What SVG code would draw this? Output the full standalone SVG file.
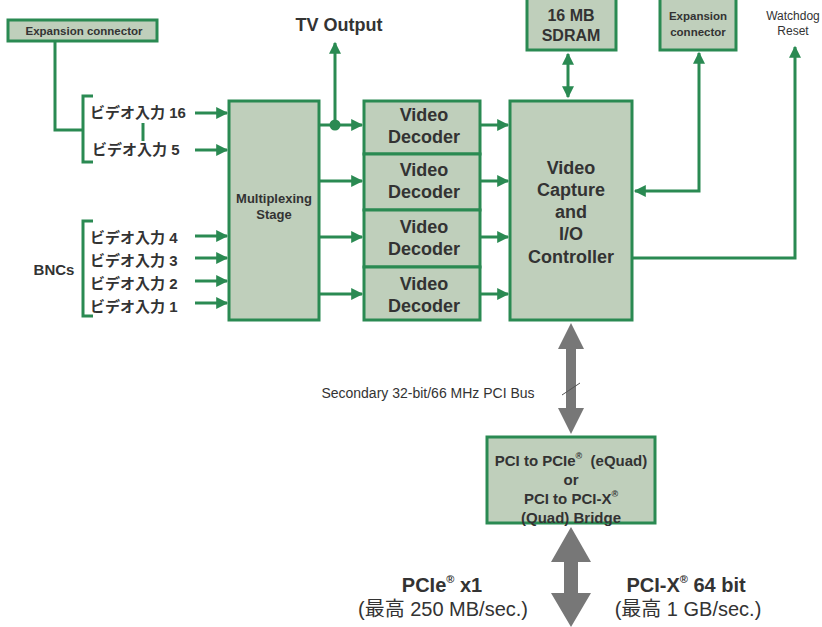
<svg xmlns="http://www.w3.org/2000/svg" width="822" height="627" viewBox="0 0 822 627">
<style>
.box{fill:#bfcfbb;stroke:#2a8a52;stroke-width:3}
.ln{fill:none;stroke:#2a8a52;stroke-width:3}
.t{font-family:"Liberation Sans","Noto Sans CJK JP",sans-serif;fill:#333;font-weight:bold;text-anchor:middle}
.j{font-family:"Liberation Sans","Noto Sans CJK JP",sans-serif;fill:#333;font-weight:bold;font-size:15px}
.n{font-family:"Liberation Sans","Noto Sans CJK JP",sans-serif;fill:#333;text-anchor:middle}
.g{fill:#777}
</style>
<defs>
<marker id="ah" viewBox="0 0 10 10" refX="9" refY="5" markerWidth="4.5" markerHeight="4" orient="auto-start-reverse" markerUnits="strokeWidth">
<path d="M0,0 L10,5 L0,10 z" fill="#2a8a52"/>
</marker>
</defs>
<g id="connectors">
<path class="ln" d="M55,41 V130 H82"/>
<path class="ln" d="M93,96 H83 V162 H93"/>
<path class="ln" d="M93,221 H83 V316 H93"/>
<path class="ln" d="M143,123 V141" stroke-width="2"/>
<path class="ln" d="M195,113 H227" marker-end="url(#ah)"/>
<path class="ln" d="M195,150 H227" marker-end="url(#ah)"/>
<path class="ln" d="M195,236 H227" marker-end="url(#ah)"/>
<path class="ln" d="M195,258 H227" marker-end="url(#ah)"/>
<path class="ln" d="M195,281 H227" marker-end="url(#ah)"/>
<path class="ln" d="M195,303 H227" marker-end="url(#ah)"/>
<path class="ln" d="M320,125 H362" marker-end="url(#ah)"/>
<path class="ln" d="M335,125 V43" marker-end="url(#ah)"/>
<circle cx="335" cy="125" r="5.5" fill="#2a8a52"/>
<path class="ln" d="M320,181 H362" marker-end="url(#ah)"/>
<path class="ln" d="M320,237 H362" marker-end="url(#ah)"/>
<path class="ln" d="M320,294 H362" marker-end="url(#ah)"/>
<path class="ln" d="M481,125 H508" marker-end="url(#ah)"/>
<path class="ln" d="M481,181 H508" marker-end="url(#ah)"/>
<path class="ln" d="M481,237 H508" marker-end="url(#ah)"/>
<path class="ln" d="M481,294 H508" marker-end="url(#ah)"/>
<path class="ln" d="M568,54 V97" marker-start="url(#ah)" marker-end="url(#ah)"/>
<path class="ln" d="M699,53 V191 H635" marker-start="url(#ah)" marker-end="url(#ah)"/>
<path class="ln" d="M633,258 H795 V47" marker-end="url(#ah)"/>
<path class="g" d="M571,323 L584,349 L576,349 L576,408 L584,408 L571,434 L558,408 L566,408 L566,349 L558,349 z"/>
<path d="M562,395 L580,383" stroke="#555" stroke-width="1"/>
<path class="g" d="M571,527 L591,562 L578,562 L578,593 L591,593 L571,627 L551,593 L564,593 L564,562 L551,562 z"/>
</g>
<g id="exp-left">
<rect class="box" x="8" y="20" width="149" height="21"/>
<text class="t" x="84" y="35" font-size="11.5">Expansion connector</text>
</g>
<g id="inputs">
<text class="j" x="90" y="118">ビデオ入力 16</text>
<text class="j" x="92" y="155">ビデオ入力 5</text>
<text class="j" x="90" y="243">ビデオ入力 4</text>
<text class="j" x="90" y="266">ビデオ入力 3</text>
<text class="j" x="90" y="289">ビデオ入力 2</text>
<text class="j" x="90" y="312">ビデオ入力 1</text>
<text class="t" x="54" y="275" font-size="15">BNCs</text>
</g>
<g id="tv-output">
<text class="t" x="339" y="31" font-size="18">TV Output</text>
</g>
<g id="mux">
<rect class="box" x="229" y="101" width="90" height="219"/>
<text class="t" x="274" y="203" font-size="13">Multiplexing</text>
<text class="t" x="274" y="219" font-size="13">Stage</text>
</g>
<g id="dec1">
<rect class="box" x="364" y="101" width="116" height="53"/>
<text class="t" x="424" y="121" font-size="18">Video</text>
<text class="t" x="424" y="143" font-size="18">Decoder</text>
</g>
<g id="dec2">
<rect class="box" x="364" y="154" width="116" height="56"/>
<text class="t" x="424" y="176" font-size="18">Video</text>
<text class="t" x="424" y="198" font-size="18">Decoder</text>
</g>
<g id="dec3">
<rect class="box" x="364" y="210" width="116" height="57"/>
<text class="t" x="424" y="233" font-size="18">Video</text>
<text class="t" x="424" y="255" font-size="18">Decoder</text>
</g>
<g id="dec4">
<rect class="box" x="364" y="267" width="116" height="53"/>
<text class="t" x="424" y="290" font-size="18">Video</text>
<text class="t" x="424" y="312" font-size="18">Decoder</text>
</g>
<g id="controller">
<rect class="box" x="510" y="101" width="122" height="219"/>
<text class="t" x="571" y="174" font-size="18">Video</text>
<text class="t" x="571" y="196" font-size="18">Capture</text>
<text class="t" x="571" y="218" font-size="18">and</text>
<text class="t" x="571" y="240" font-size="18">I/O</text>
<text class="t" x="571" y="263" font-size="18">Controller</text>
</g>
<g id="sdram">
<rect class="box" x="527" y="-2" width="89" height="52"/>
<text class="t" x="571" y="21" font-size="16">16 MB</text>
<text class="t" x="571" y="41" font-size="16">SDRAM</text>
</g>
<g id="exp-right">
<rect class="box" x="660" y="-2" width="76" height="52"/>
<text class="t" x="698" y="20" font-size="11.5">Expansion</text>
<text class="t" x="698" y="36" font-size="11.5">connector</text>
</g>
<g id="watchdog">
<text class="n" x="793" y="20" font-size="12">Watchdog</text>
<text class="n" x="793" y="35" font-size="12">Reset</text>
</g>
<g id="bus-label">
<text class="n" x="428" y="398" font-size="14">Secondary 32-bit/66 MHz PCI Bus</text>
</g>
<g id="bridge">
<rect class="box" x="487" y="437" width="168" height="86"/>
<text class="t" x="571" y="466" font-size="15">PCI to PCIe<tspan font-size="9" dy="-7">®</tspan><tspan dy="7">&#160; (eQuad)</tspan></text>
<text class="t" x="571" y="485" font-size="15">or</text>
<text class="t" x="571" y="504" font-size="15">PCI to PCI-X<tspan font-size="9" dy="-7">®</tspan></text>
<text class="t" x="571" y="523" font-size="15">(Quad) Bridge</text>
</g>
<g id="pcie">
<text class="t" x="442" y="592" font-size="20">PCIe<tspan font-size="11" dy="-9">®</tspan><tspan dy="9"> x1</tspan></text>
<text class="n" x="443" y="616" font-size="20">(最高 250 MB/sec.)</text>
</g>
<g id="pcix">
<text class="t" x="686" y="592" font-size="20">PCI-X<tspan font-size="11" dy="-9">®</tspan><tspan dy="9"> 64 bit</tspan></text>
<text class="n" x="688" y="616" font-size="20">(最高 1 GB/sec.)</text>
</g>
</svg>
